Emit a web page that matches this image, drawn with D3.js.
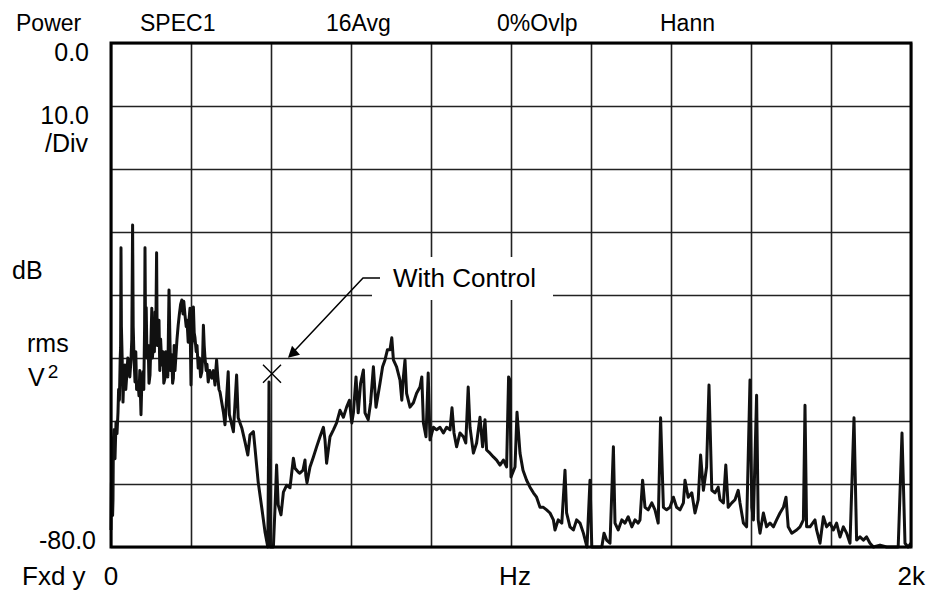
<!DOCTYPE html>
<html><head><meta charset="utf-8">
<script src="https://cdn.jsdelivr.net/npm/d3@7"></script>
<style>
html,body{margin:0;padding:0;background:#fff;}
svg text{font-family:"Liberation Sans",Arial,Helvetica,sans-serif;fill:#000;}
</style></head>
<body><svg id="c" width="929" height="592"></svg>
<script>
// ---- data ----
const headerLabels = ["Power","SPEC1","16Avg","0%Ovlp","Hann"];
const yTickLabels = ["0.0","10.0","/Div","dB","rms","-80.0"];
const xTickLabels = ["0","Hz","2k"];
const annotationText = "With Control";
const markerPoint = [400, -52.5]; // Hz, dB
const freqHz = [0,1,2.5,4,5,6,7.5,10,12.5,15,17.5,19,21,23,24,25,26,28,30,32,35,37,40,42,45,47,50,52,54,55.5,57.5,60,62,64,67.5,70,72,75,77,80,82,84,85,86.5,88,90,93,95,97.5,100,102,103.5,105,107,108.5,110,112,114,115.5,117.5,120,122,124,127,130,132,135,137,140,142,145,147,149,152,154,156,158,160,162,165,168,171,174,177,180,182,185,188,190,193,195,197.5,199,200,202,204,206,208,210,213,215,218,221,224,227,229,231,233,235,238,240,243,247,252,256,260,262,264,267,270,272.5,281,285,293,296,306,314,318,327,335,342,347.5,356,360,368,377,385,392,394,395,396,398,406,410,414,418,425,431,439,447.5,456,460,468,472,480,485,487,490,497.5,506,514,522.5,531,535,539,547.5,556,564,572.5,581,589,596,602,606,612.5,618,624,631,635,643,649,656,662.5,672.5,679,685,691,697.5,702,706,714,722.5,727,731,735,739,747.5,756,764,772.5,777,781,787.5,793,797.5,806,814,822.5,831,839,847.5,852.5,857.5,864,872.5,881,887,893,897.5,906,914,922.5,929,935,939,947.5,956,964,972.5,981,989,994,997.5,1000,1010,1015,1022.5,1030,1039,1047.5,1056,1064,1072.5,1081,1089,1097.5,1106,1110,1118,1127,1135,1139,1147.5,1156,1164,1172.5,1181,1190,1197.5,1202,1214,1227,1232.5,1239,1247.5,1256,1260,1268,1277,1285,1293,1302,1310,1318,1322.5,1329,1335,1343,1352,1360,1368,1374,1381,1389,1397.5,1406,1414,1422.5,1431,1435,1443,1452,1460,1468,1474,1481,1489,1495,1502,1510,1518,1522.5,1531,1537,1543,1552,1560,1568,1572.5,1581,1589,1597.5,1602,1606,1614,1618,1622.5,1631,1639,1647.5,1656,1664,1672.5,1681,1687.5,1693,1702,1714,1722.5,1731,1735,1739,1747.5,1760,1764,1772.5,1781,1789,1797.5,1806,1814,1822.5,1831,1839,1847.5,1857.5,1864,1872.5,1881,1889,1897.5,1906,1922.5,1939,1956,1968,1977.5,1985,1992.5,2000];
const levelDb = [-77.3,-70,-67.8,-75,-72.5,-63,-61.4,-66,-60.2,-62,-58.6,-55,-56.7,-50,-48.4,-32.5,-45,-50.3,-57.0,-53,-51.1,-55,-52.2,-50,-51.1,-53,-50.3,-47,-28.9,-45,-50.0,-53.8,-49,-55,-53.8,-56,-52,-59.0,-54,-52.2,-55,-45,-32.5,-47,-42,-50.0,-48,-54,-52.7,-47,-42.1,-50,-48.7,-44,-49,-42.7,-46,-33.3,-48,-47.5,-44,-52,-47,-51.1,-49,-54,-53.2,-49,-50.3,-53,-39.2,-46,-52,-49.5,-54,-53.2,-48,-52,-50.0,-47,-44.8,-43,-41.5,-40.8,-43,-41,-43.2,-45,-44,-47.5,-44,-42.1,-50,-54.3,-48,-47,-41.9,-46,-46.8,-49,-48,-51.6,-50,-53,-52.2,-50,-44.8,-48,-50.0,-52,-51,-53.8,-52,-53.2,-52,-54.3,-52,-50.3,-53,-55,-55.4,-58.6,-60.6,-52.2,-59.0,-61.7,-52.7,-59.5,-61.1,-63.3,-65.4,-62.2,-61.7,-64.3,-69.7,-73.8,-77.6,-80,-64.6,-53.8,-64.6,-80,-80,-73.8,-67.0,-73.3,-74.9,-71.3,-70.2,-70.6,-65.9,-67.5,-68.1,-68.3,-67.8,-66.2,-68.6,-69.8,-67.3,-65.7,-64.1,-62.5,-61.0,-63.0,-66.7,-62.5,-61.4,-60.3,-58.3,-59.4,-57.8,-56.7,-60.3,-58.7,-53.0,-58.7,-54.0,-51.9,-58.7,-59.8,-57.1,-51.4,-57.8,-54.0,-51.4,-50.3,-48.7,-48.7,-46.8,-50.3,-51.4,-53.5,-56.7,-53.0,-50.3,-55.6,-57.8,-57.1,-55.6,-54.6,-53.0,-60.3,-62.5,-52.4,-63.0,-61.0,-61.4,-61.0,-61.9,-61.0,-61.4,-57.9,-61.9,-64.1,-61.9,-62.5,-63.5,-54.6,-61.0,-65.1,-63.5,-59.4,-64.1,-59.8,-64.6,-65.1,-65.7,-66.2,-67.0,-66.2,-67.3,-53.0,-53.5,-68.9,-67.3,-58.6,-65.1,-67.8,-69.4,-70.5,-71.4,-72.1,-73.7,-73.7,-74.1,-74.6,-75.7,-77.3,-75.7,-76.2,-67.8,-74.6,-76.8,-77.3,-75.7,-76.2,-77.8,-80,-69.4,-80,-80,-80,-77.8,-78.9,-79.4,-64.1,-76.2,-77.3,-75.7,-76.2,-75.2,-76.8,-75.7,-76.2,-75.7,-69.4,-73.7,-74.1,-73.0,-74.1,-76.2,-59.5,-73.7,-74.1,-73.7,-72.1,-73.7,-74.1,-73.0,-69.4,-72.1,-71.4,-74.6,-72.5,-65.4,-71.0,-67.3,-54.3,-71.0,-71.4,-70.5,-72.5,-73.0,-67.0,-73.7,-73.0,-72.5,-71.0,-73.0,-76.2,-76.8,-53.5,-73.7,-75.7,-55.9,-75.7,-77.8,-74.6,-76.8,-76.2,-76.8,-75.7,-74.6,-73.7,-72.1,-76.8,-77.8,-77.3,-76.8,-75.7,-57.5,-76.8,-76.8,-75.7,-77.3,-79.4,-75.2,-76.8,-76.2,-77.3,-76.2,-78.4,-76.8,-77.8,-79.4,-59.5,-78.9,-78.4,-78.9,-78.4,-79.4,-80,-79.7,-80,-80,-80,-61.9,-79.4,-80,-79.4];

// ---- layout ----
const svg = d3.select("#c");
const L = 111, R = 911, T = 43, B = 547;
const x = d3.scaleLinear().domain([0, 2000]).range([L, R]);
const y = d3.scaleLinear().domain([-80, 0]).range([B, T]);

// grid
const g = svg.append("g");
const xAxis = d3.axisBottom(x).tickValues(d3.range(0, 2001, 200)).tickSize(-(B - T)).tickFormat("");
const yAxis = d3.axisLeft(y).tickValues(d3.range(-80, 1, 10)).tickSize(-(R - L)).tickFormat("");
g.append("g").attr("transform", `translate(0,${B})`).call(xAxis)
  .call(s => s.select(".domain").remove())
  .selectAll("line").attr("stroke", "#222").attr("stroke-width", 1.6);
g.append("g").attr("transform", `translate(${L},0)`).call(yAxis)
  .call(s => s.select(".domain").remove())
  .selectAll("line").attr("stroke", "#222").attr("stroke-width", 1.6);

// white label box behind annotation
svg.append("rect").attr("x", 372).attr("y", 257).attr("width", 181).attr("height", 43).attr("fill", "#fff");

// trace
const pts = freqHz.map((f, i) => [f, levelDb[i]]);
svg.append("path").datum(pts)
  .attr("d", d3.line().x(d => x(d[0])).y(d => y(d[1])))
  .attr("fill", "none").attr("stroke", "#111").attr("stroke-width", 3)
  .attr("stroke-linejoin", "round");

// frame
svg.append("rect").attr("x", L).attr("y", T).attr("width", R - L).attr("height", B - T)
  .attr("fill", "none").attr("stroke", "#000").attr("stroke-width", 3);

// header
const hx = [16, 140, 326, 497, 660];
svg.selectAll("text.h").data(headerLabels).join("text").attr("class", "h")
  .attr("x", (d, i) => hx[i]).attr("y", 31).attr("font-size", 23).text(d => d);

// left labels
const lab = [
  {t: yTickLabels[0], x: 89, y: 61, a: "end"},
  {t: yTickLabels[1], x: 89, y: 124, a: "end"},
  {t: yTickLabels[2], x: 88, y: 152, a: "end"},
  {t: yTickLabels[3], x: 12, y: 279, a: "start"},
  {t: yTickLabels[4], x: 27, y: 352, a: "start"},
  {t: yTickLabels[5], x: 96, y: 549, a: "end"}
];
svg.selectAll("text.l").data(lab).join("text").attr("class", "l")
  .attr("x", d => d.x).attr("y", d => d.y).attr("text-anchor", d => d.a)
  .attr("font-size", 25).text(d => d.t);
const v2 = svg.append("text").attr("x", 28).attr("y", 386).attr("font-size", 25);
v2.append("tspan").text("V");
v2.append("tspan").attr("dx", 3).attr("dy", -8).attr("font-size", 19).text("2");

// bottom labels
svg.append("text").attr("x", 22).attr("y", 585).attr("font-size", 26).text("Fxd y");
svg.append("text").attr("x", x(0)).attr("y", 585).attr("font-size", 26).attr("text-anchor", "middle").text(xTickLabels[0]);
svg.append("text").attr("x", x(1010)).attr("y", 585).attr("font-size", 26).attr("text-anchor", "middle").text(xTickLabels[1]);
svg.append("text").attr("x", 925).attr("y", 585).attr("font-size", 26).attr("text-anchor", "end").text(xTickLabels[2]);

// annotation
svg.append("text").attr("x", 393).attr("y", 287).attr("font-size", 26).text(annotationText);
const mx = x(markerPoint[0]) + 1, my = y(markerPoint[1]);
svg.append("path").attr("d", `M${mx-9},${my-9}L${mx+9},${my+9}M${mx-9},${my+9}L${mx+9},${my-9}`)
  .attr("stroke", "#000").attr("stroke-width", 1.4).attr("fill", "none");
// leader line with arrow
const tipX = mx + 16, tipY = my - 16;
svg.append("path").attr("d", `M380,278L363,278L${tipX+7},${tipY-7.5}`)
  .attr("stroke", "#000").attr("stroke-width", 1.5).attr("fill", "none");
svg.append("path").attr("d", `M${tipX},${tipY}L${tipX+4},${tipY-12}L${tipX+12},${tipY-3}Z`).attr("fill", "#000");
</script></body></html>
